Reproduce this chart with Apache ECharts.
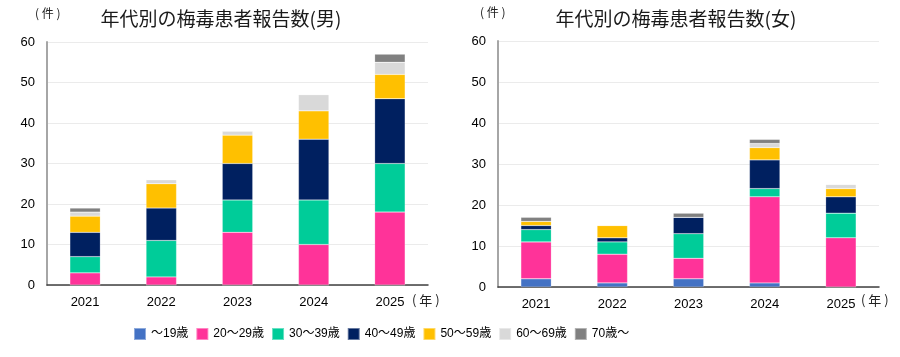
<!DOCTYPE html>
<html><head><meta charset="utf-8">
<script src="https://cdn.jsdelivr.net/npm/echarts@6/dist/echarts.min.js"></script>
<style>html,body{margin:0;padding:0;background:#fff}#c{width:900px;height:357px}</style>
</head><body><div id="c"></div>
<script>
const years = ['2021','2022','2023','2024','2025'];
const ageGroups = ['～19歳','20～29歳','30～39歳','40～49歳','50～59歳','60～69歳','70歳～'];
const colors = ['#4472C4','#FF3399','#00CC99','#002060','#FFC000','#D9D9D9','#808080'];
// male counts per age group, by year
const male_u19   = [0, 0, 0, 0, 0];
const male_20s   = [3, 2, 13, 10, 18];
const male_30s   = [4, 9, 8, 11, 12];
const male_40s   = [6, 8, 9, 15, 16];
const male_50s   = [4, 6, 7, 7, 6];
const male_60s   = [1, 1, 1, 4, 3];
const male_70p   = [1, 0, 0, 0, 2];
// female counts per age group, by year
const female_u19 = [2, 1, 2, 1, 0];
const female_20s = [9, 7, 5, 21, 12];
const female_30s = [3, 3, 6, 2, 6];
const female_40s = [1, 1, 4, 7, 4];
const female_50s = [1, 3, 0, 3, 2];
const female_60s = [0, 0, 0, 1, 1];
const female_70p = [1, 0, 1, 1, 0];
const yTicks = [0, 10, 20, 30, 40, 50, 60];

const maleData = [male_u19, male_20s, male_30s, male_40s, male_50s, male_60s, male_70p];
const femaleData = [female_u19, female_20s, female_30s, female_40s, female_50s, female_60s, female_70p];
const FONT = '"Liberation Sans", "Noto Sans CJK JP", sans-serif';
const JP = '"Noto Sans CJK JP", sans-serif';

function xAxis(gi){
  return {type:'category', gridIndex:gi, data:years,
    axisLine:{lineStyle:{color:'#404040', width:1.5}}, axisTick:{show:false},
    axisLabel:{color:'#000', fontSize:13, margin:11, fontFamily:FONT}};
}
function yAxis(gi){
  return {type:'value', gridIndex:gi, min:yTicks[0], max:yTicks[yTicks.length-1], interval:10,
    axisLine:{show:true, lineStyle:{color:'#A6A6A6', width:2}}, axisTick:{show:false},
    splitLine:{lineStyle:{color:'#EBEBEB', width:1}},
    axisLabel:{color:'#000', fontSize:13, margin:12, fontFamily:FONT}};
}
const series = [];
ageGroups.forEach((name,i)=>{
  series.push({name, type:'bar', stack:'m', xAxisIndex:0, yAxisIndex:0, data:maleData[i],
    barWidth:'40%', itemStyle:{color:colors[i], borderColor:'rgba(255,255,255,0.4)', borderWidth:0.5}});
  series.push({name, type:'bar', stack:'f', xAxisIndex:1, yAxisIndex:1, data:femaleData[i],
    barWidth:'40%', itemStyle:{color:colors[i], borderColor:'rgba(255,255,255,0.4)', borderWidth:0.5}});
});
const chart = echarts.init(document.getElementById('c'), null, {renderer:'canvas'});
chart.setOption({
  animation:false,
  textStyle:{fontFamily:FONT},
  title:[
    {text:'年代別の梅毒患者報告数(男)', left:216, top:4, textAlign:'center',
     textStyle:{fontSize:19, fontWeight:'normal', color:'#1a1a1a', fontFamily:JP}},
    {text:'年代別の梅毒患者報告数(女)', left:671, top:4, textAlign:'center',
     textStyle:{fontSize:19, fontWeight:'normal', color:'#1a1a1a', fontFamily:JP}}
  ],
  graphic:[
    {type:'text', left:35, top:7, style:{text:'( 件 )', fill:'#222', font:'12px "Noto Sans CJK JP"'}},
    {type:'text', left:480, top:6, style:{text:'( 件 )', fill:'#222', font:'12px "Noto Sans CJK JP"'}},
    {type:'text', left:412, top:294, style:{text:'( 年 )', fill:'#222', font:'13px "Noto Sans CJK JP"'}},
    {type:'text', left:861, top:294, style:{text:'( 年 )', fill:'#222', font:'13px "Noto Sans CJK JP"'}}
  ],
  legend:{data:ageGroups, left:133, top:327, padding:0, itemWidth:12, itemHeight:12, itemGap:7,
    icon:'rect', textStyle:{fontSize:12, color:'#000', fontFamily:FONT}},
  grid:[
    {left:47, right:472, top:42, bottom:72},
    {left:498, right:21, top:41, bottom:70}
  ],
  xAxis:[xAxis(0), xAxis(1)],
  yAxis:[yAxis(0), yAxis(1)],
  series
});
</script></body></html>
